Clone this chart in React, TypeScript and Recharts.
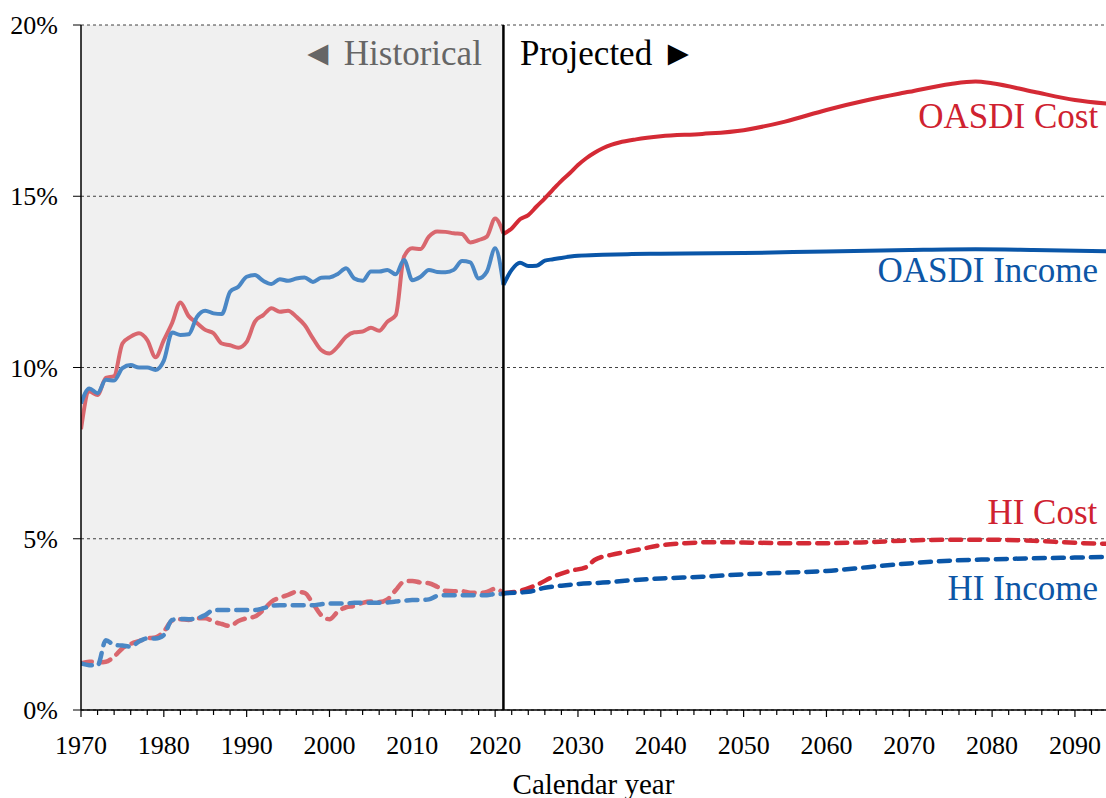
import React from 'react'
import {
  LineChart,
  Line,
  XAxis,
  YAxis,
  CartesianGrid,
  ReferenceArea,
  ReferenceLine,
  ReferenceDot,
} from 'recharts'

const FONT = '"Liberation Serif", "Times New Roman", "DejaVu Serif", serif'

const RED = '#d42a35'
const BLUE = '#0a56a8'
const RED_HIST = '#d9676e'
const BLUE_HIST = '#4a87c5'

// historical, 1970..2021, percent of taxable payroll
const histYears = Array.from({ length: 52 }, (_, i) => 1970 + i)

const histOasdiCost = [
  8.2, 9.3, 9.2, 9.7, 9.75, 10.7, 10.9, 11.0, 10.8, 10.3,
  10.8, 11.3, 11.9, 11.5, 11.3, 11.1, 11.0, 10.7, 10.65, 10.58,
  10.75, 11.34, 11.53, 11.73, 11.63, 11.66, 11.48, 11.24, 10.85, 10.51,
  10.41, 10.61, 10.9, 11.03, 11.05, 11.16, 11.07, 11.34, 11.53, 13.24,
  13.48, 13.46, 13.82, 13.97, 13.96, 13.92, 13.9, 13.65, 13.72, 13.82,
  14.35, 13.92,
]

const histOasdiIncome = [
  8.95, 9.39, 9.25, 9.64, 9.62, 9.98, 10.07, 10.0, 10.0, 9.93,
  10.2, 11.02, 10.95, 10.97, 11.48, 11.66, 11.58, 11.56, 12.21, 12.36,
  12.65, 12.7, 12.53, 12.44, 12.58, 12.53, 12.6, 12.63, 12.5, 12.62,
  12.63, 12.73, 12.9, 12.6, 12.53, 12.8, 12.8, 12.85, 12.72, 13.14,
  12.55, 12.65, 12.85, 12.79, 12.78, 12.85, 13.11, 13.07, 12.6, 12.8,
  13.48, 12.41,
]

const histHiCost = [
  1.36, 1.41, 1.39, 1.41, 1.56, 1.8, 1.93, 2.01, 2.09, 2.12,
  2.29, 2.61, 2.65, 2.63, 2.68, 2.68, 2.58, 2.51, 2.45, 2.6,
  2.68, 2.73, 2.92, 3.16, 3.28, 3.36, 3.45, 3.42, 3.11, 2.77,
  2.65, 2.87, 3.0, 3.04, 3.13, 3.17, 3.15, 3.23, 3.5, 3.75,
  3.77, 3.72, 3.7, 3.6, 3.48, 3.47, 3.47, 3.42, 3.42, 3.45,
  3.54, 3.41,
]

const histHiIncome = [
  1.36, 1.31, 1.3, 2.04, 1.9, 1.88, 1.85, 2.0, 2.09, 2.09,
  2.19, 2.63, 2.66, 2.65, 2.68, 2.77, 2.92, 2.92, 2.92, 2.92,
  2.92, 2.92, 2.97, 3.04, 3.06, 3.06, 3.06, 3.06, 3.06, 3.09,
  3.11, 3.11, 3.11, 3.13, 3.13, 3.13, 3.13, 3.14, 3.17, 3.19,
  3.21, 3.21, 3.23, 3.33, 3.35, 3.35, 3.35, 3.35, 3.35, 3.35,
  3.39, 3.39,
]

// projected (intermediate assumptions)
const projOasdiCostYears = [
  2021, 2022, 2023, 2024, 2025, 2026, 2027, 2028, 2029, 2030, 2031, 2032, 2033, 2034, 2035,
  2037, 2040, 2045, 2050, 2055, 2060, 2065, 2070, 2075, 2078, 2080, 2085, 2090, 2094,
]
const projOasdiCost = [
  13.9, 14.06, 14.33, 14.45, 14.7, 14.94, 15.2, 15.45, 15.67, 15.91, 16.11, 16.27, 16.4, 16.5, 16.57,
  16.66, 16.75, 16.82, 16.93, 17.18, 17.52, 17.81, 18.05, 18.28, 18.35, 18.3, 18.05, 17.81, 17.7,
]

const projOasdiIncomeYears = [
  2021, 2022, 2023, 2024, 2025, 2026, 2027, 2028, 2030, 2033, 2036, 2040, 2050, 2060, 2070, 2078, 2085, 2094,
]
const projOasdiIncome = [
  12.41, 12.85, 13.06, 12.96, 12.97, 13.12, 13.16, 13.2, 13.26, 13.29, 13.31, 13.32, 13.34, 13.39, 13.43, 13.45, 13.43, 13.39,
]

const projHiCostYears = [
  2021, 2023, 2025, 2027, 2029, 2031, 2032, 2034, 2036, 2038, 2040, 2043, 2046, 2050, 2055, 2060, 2065, 2070, 2075, 2080, 2085, 2090, 2094,
]
const projHiCost = [
  3.41, 3.48, 3.65, 3.89, 4.06, 4.17, 4.38, 4.53, 4.62, 4.72, 4.81, 4.87, 4.9, 4.89, 4.87, 4.87, 4.9, 4.95, 4.97, 4.97, 4.94, 4.88, 4.85,
]

const projHiIncomeYears = [
  2021, 2024, 2026, 2028, 2030, 2033, 2036, 2040, 2045, 2050, 2055, 2060, 2065, 2070, 2075, 2080, 2085, 2090, 2094,
]
const projHiIncome = [
  3.41, 3.45, 3.57, 3.63, 3.68, 3.72, 3.78, 3.84, 3.89, 3.96, 4.01, 4.06, 4.17, 4.28, 4.36, 4.4, 4.43, 4.45, 4.47,
]

const xTicks = Array.from({ length: 62 }, (_, i) => 1970 + i * 2)
const yTicks = [0, 5, 10, 15, 20]

const seriesLabels = [
  { text: 'OASDI Cost', year: 2092.8, value: 16.99, color: '#cf2230', anchor: 'end' },
  { text: 'OASDI Income', year: 2092.8, value: 12.5, color: '#0d56a6', anchor: 'end' },
  { text: 'HI Cost', year: 2092.7, value: 5.42, color: '#cf2230', anchor: 'end' },
  { text: 'HI Income', year: 2092.8, value: 3.21, color: '#0d56a6', anchor: 'end' },
  { text: '\u25C4 Historical', year: 2018.4, value: 18.83, color: '#666666', anchor: 'end' },
  { text: 'Projected \u25BA', year: 2023.0, value: 18.83, color: '#000000', anchor: 'start' },
]

const toPoints = (years: number[], values: number[]) =>
  values.map((v, i) => ({ year: years[i], v }))

function YearTick(props: any) {
  const { x, y, payload } = props
  const major = payload.value % 10 === 0
  return (
    <g>
      <line x1={x} x2={x} y1={y} y2={y + (major ? 7 : 5)} stroke="#000" strokeWidth={1.2} />
      {major && (
        <text x={x} y={y + 44} textAnchor="middle" fontSize={26} fontFamily={FONT} fill="#000">
          {payload.value}
        </text>
      )}
    </g>
  )
}

function Annotation({ viewBox, text, color, anchor }: any) {
  const cx = viewBox.x + viewBox.width / 2
  const cy = viewBox.y + viewBox.height / 2
  return (
    <text x={cx} y={cy} textAnchor={anchor} fontSize={35} fontFamily={FONT} fill={color}>
      {text}
    </text>
  )
}

export default function App() {
  const solid = { dot: false, isAnimationActive: false, strokeWidth: 4, type: 'monotone' as const }
  const dashed = { ...solid, strokeWidth: 4.5, strokeDasharray: '11 8', strokeLinecap: 'round' as const }

  return (
    <div style={{ position: 'absolute', left: 0, top: 0, width: 1106, height: 798, background: '#fff' }}>
      <LineChart width={1106} height={798} margin={{ top: 25, right: 0, bottom: 38, left: 0 }}>
        <ReferenceArea
          x1={1970}
          x2={2021}
          y1={0}
          y2={20}
          fill="#000"
          fillOpacity={0.06}
          stroke="none"
          isFront={false}
        />
        <CartesianGrid vertical={false} stroke="#444" strokeDasharray="3 3" strokeWidth={1} />
        <XAxis
          dataKey="year"
          type="number"
          domain={[1970, 2093.75]}
          allowDataOverflow
          ticks={xTicks}
          interval={0}
          tick={<YearTick />}
          tickLine={false}
          tickSize={0}
          tickMargin={0}
          height={50}
          axisLine={{ stroke: '#000', strokeWidth: 1.5 }}
          label={{
            value: 'Calendar year',
            position: 'bottom',
            offset: 13,
            fontSize: 29,
            fontFamily: FONT,
            fill: '#000',
          }}
        />
        <YAxis
          type="number"
          domain={[0, 20]}
          ticks={yTicks}
          width={81}
          tickFormatter={(v) => `${v}%`}
          tick={{ fontSize: 26, fontFamily: FONT, fill: '#000' }}
          tickSize={8}
          tickMargin={15}
          tickLine={{ stroke: '#000' }}
          axisLine={{ stroke: '#000', strokeWidth: 1.5 }}
        />

        <Line {...solid} data={toPoints(histYears, histOasdiCost)} dataKey="v" stroke={RED_HIST} />
        <Line {...solid} data={toPoints(histYears, histOasdiIncome)} dataKey="v" stroke={BLUE_HIST} />
        <Line {...dashed} data={toPoints(histYears, histHiCost)} dataKey="v" stroke={RED_HIST} />
        <Line {...dashed} data={toPoints(histYears, histHiIncome)} dataKey="v" stroke={BLUE_HIST} />

        <Line {...solid} data={toPoints(projOasdiCostYears, projOasdiCost)} dataKey="v" stroke={RED} />
        <Line {...solid} data={toPoints(projOasdiIncomeYears, projOasdiIncome)} dataKey="v" stroke={BLUE} />
        <Line {...dashed} data={toPoints(projHiCostYears, projHiCost)} dataKey="v" stroke={RED} />
        <Line {...dashed} data={toPoints(projHiIncomeYears, projHiIncome)} dataKey="v" stroke={BLUE} />

        <ReferenceLine x={2021} stroke="#000" strokeWidth={2.5} />

        {seriesLabels.map((l) => (
          <ReferenceDot
            key={l.text}
            x={l.year}
            y={l.value}
            r={1}
            fill="none"
            stroke="none"
            label={<Annotation text={l.text} color={l.color} anchor={l.anchor} />}
          />
        ))}
      </LineChart>
    </div>
  )
}
